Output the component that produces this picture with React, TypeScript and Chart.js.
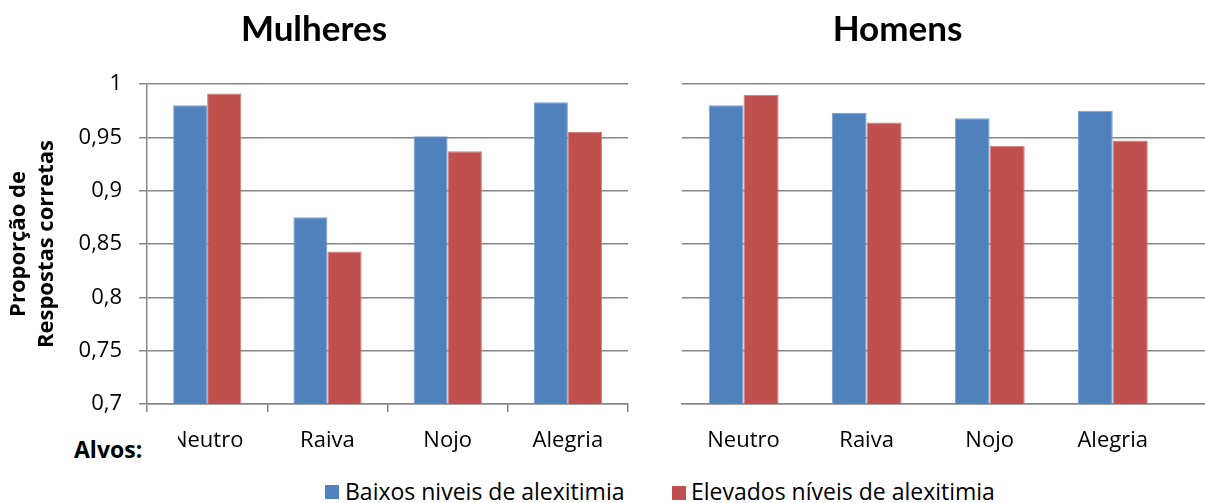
import React, { useEffect, useRef } from 'react';
import Chart from 'chart.js/auto';

// Categorias (alvos) e séries
const categorias = ['Neutro', 'Raiva', 'Nojo', 'Alegria'];
const serieBaixos = 'Baixos niveis de alexitimia';
const serieElevados = 'Elevados níveis de alexitimia';

// Proporção de respostas corretas
const mulheresBaixos = [0.98, 0.875, 0.951, 0.983];
const mulheresElevados = [0.991, 0.843, 0.937, 0.955];
const homensBaixos = [0.98, 0.973, 0.968, 0.975];
const homensElevados = [0.99, 0.964, 0.942, 0.947];

// Escala do eixo Y
const yMin = 0.7;
const yMax = 1;
const yStep = 0.05;

const AZUL = '#4F81BD';
const VERMELHO = '#C0504D';
const AZUL_BORDA = '#7A9FD0';
const VERMELHO_BORDA = '#D27D7A';
const CINZA = '#868686';
const FONTE = '"Open Sans", "Liberation Sans", sans-serif';
const FONTE_TITULO = 'Lato, "Open Sans", sans-serif';
const TAM_TICKS = 22;

const fmt = (v: number) => String(Math.round(v * 100) / 100).replace('.', ',');

function barDatasets(baixos: number[], elevados: number[], asXY: boolean) {
  const mk = (vals: number[]) =>
    asXY ? vals.map((y, i) => ({ x: i, y })) : vals;
  return [
    {
      label: serieBaixos,
      data: mk(baixos),
      backgroundColor: AZUL,
      borderColor: AZUL_BORDA,
      borderWidth: 1,
      categoryPercentage: 0.565,
      barPercentage: 1,
    },
    {
      label: serieElevados,
      data: mk(elevados),
      backgroundColor: VERMELHO,
      borderColor: VERMELHO_BORDA,
      borderWidth: 1,
      categoryPercentage: 0.57,
      barPercentage: 1,
    },
  ];
}

const titleOpts = (text: string) => ({
  display: true,
  text,
  color: '#000',
  font: { family: FONTE_TITULO, size: 35, weight: 'bold' as const, lineHeight: 1.2 },
  padding: { top: 9, bottom: 33 },
});

export default function App() {
  const leftRef = useRef<HTMLCanvasElement | null>(null);
  const rightRef = useRef<HTMLCanvasElement | null>(null);

  useEffect(() => {
    if (!leftRef.current || !rightRef.current) return;

    const mulheres = new Chart(leftRef.current, {
      type: 'bar',
      data: {
        labels: categorias,
        datasets: barDatasets(mulheresBaixos, mulheresElevados, false) as any,
      },
      options: {
        responsive: false,
        animation: false,
        devicePixelRatio: 1,
        layout: { padding: { left: 0, right: 12, top: 0, bottom: 0 } },
        plugins: {
          legend: { display: false },
          tooltip: { enabled: false },
          title: titleOpts('Mulheres'),
        },
        scales: {
          x: {
            type: 'category',
            offset: true,
            grid: {
              display: true,
              drawOnChartArea: false,
              drawTicks: true,
              tickLength: 8,
              offset: true,
              color: CINZA,
              lineWidth: 1.5,
            },
            border: { display: true, color: CINZA, width: 1.5 },
            ticks: {
              color: '#000',
              font: { family: FONTE, size: TAM_TICKS },
              padding: 16,
              maxRotation: 0,
              autoSkip: false,
            },
            afterFit: (s: any) => {
              s.height = 66;
            },
          },
          y: {
            min: yMin,
            max: yMax,
            ticks: {
              stepSize: yStep,
              color: '#000',
              font: { family: FONTE, size: TAM_TICKS },
              padding: 17,
              callback: (v: any) => fmt(Number(v)),
            },
            grid: { color: CINZA, lineWidth: 1.5, tickLength: 8 },
            border: { display: true, color: CINZA, width: 1.5 },
            title: {
              display: true,
              text: ['Proporção de', 'Respostas corretas'],
              color: '#000',
              font: { family: FONTE, size: 22, weight: 'bold', lineHeight: 1.3 },
              padding: { top: 4, bottom: 0 },
            },
            afterFit: (s: any) => {
              s.width = 147;
            },
          },
        },
      } as any,
    });

    const homens = new Chart(rightRef.current, {
      type: 'bar',
      data: {
        datasets: barDatasets(homensBaixos, homensElevados, true) as any,
      },
      options: {
        responsive: false,
        animation: false,
        devicePixelRatio: 1,
        layout: { padding: 0 },
        plugins: {
          legend: { display: false },
          tooltip: { enabled: false },
          title: titleOpts('Homens'),
        },
        scales: {
          x: {
            type: 'linear',
            min: -0.5,
            max: 3.75,
            offset: false,
            grid: {
              display: true,
              drawOnChartArea: false,
              drawTicks: false,
              offset: false,
            },
            border: { display: true, color: CINZA, width: 1.5 },
            ticks: {
              stepSize: 1,
              includeBounds: false,
              color: '#000',
              font: { family: FONTE, size: TAM_TICKS },
              padding: 24,
              maxRotation: 0,
              autoSkip: false,
              callback: (v: any) =>
                Number.isInteger(Number(v)) ? categorias[Number(v)] ?? '' : '',
            },
            afterFit: (s: any) => {
              s.height = 66;
            },
          },
          y: {
            min: yMin,
            max: yMax,
            ticks: { stepSize: yStep, display: false },
            grid: { color: CINZA, lineWidth: 1.5, drawTicks: false },
            border: { display: false },
            afterFit: (s: any) => {
              s.width = 92;
            },
          },
        },
      } as any,
    });

    return () => {
      mulheres.destroy();
      homens.destroy();
    };
  }, []);

  const legendText: React.CSSProperties = {
    position: 'absolute',
    fontFamily: FONTE,
    fontSize: 23,
    lineHeight: '28px',
    color: '#000',
    whiteSpace: 'nowrap',
  };

  return (
    <div
      style={{
        position: 'absolute',
        left: 0,
        top: 0,
        width: 1205,
        height: 503,
        overflow: 'hidden',
        background: '#fff',
      }}
    >
      <canvas
        ref={leftRef}
        width={640}
        height={470}
        style={{ position: 'absolute', left: 0, top: 0, width: 640, height: 470 }}
      />
      <canvas
        ref={rightRef}
        width={615}
        height={470}
        style={{ position: 'absolute', left: 590, top: 0, width: 615, height: 470 }}
      />
      <div
        style={{
          position: 'absolute',
          left: 70,
          top: 431,
          width: 108,
          height: 36,
          background: '#fff',
          fontFamily: FONTE,
          fontWeight: 'bold',
          fontSize: 23,
          lineHeight: '36px',
          paddingLeft: 4,
          boxSizing: 'border-box',
          color: '#000',
        }}
      >
        Alvos:
      </div>
      <div
        style={{ position: 'absolute', left: 325, top: 485, width: 14, height: 14, background: AZUL }}
      />
      <div style={{ ...legendText, left: 345, top: 477 }}>{serieBaixos}</div>
      <div
        style={{ position: 'absolute', left: 672, top: 486, width: 14, height: 14, background: VERMELHO }}
      />
      <div style={{ ...legendText, left: 691, top: 477 }}>{serieElevados}</div>
    </div>
  );
}
